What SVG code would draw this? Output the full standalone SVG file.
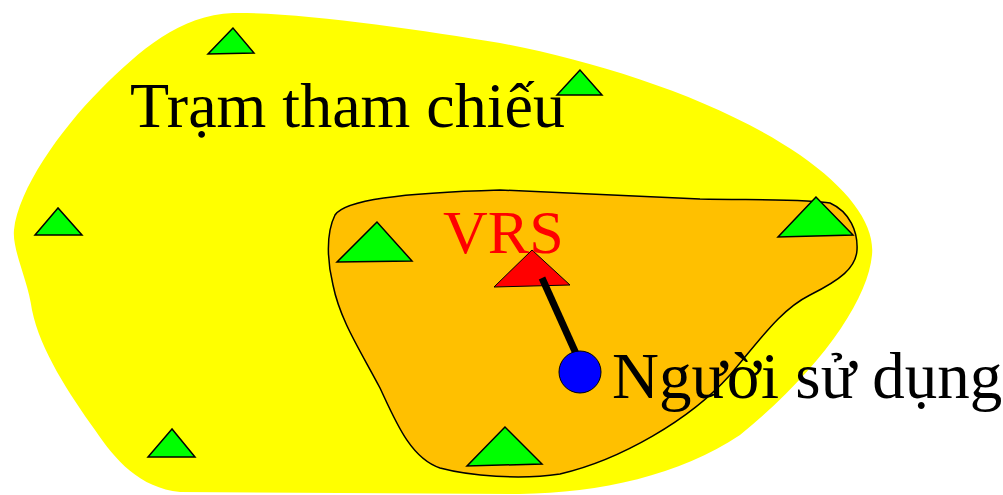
<svg xmlns="http://www.w3.org/2000/svg" width="1003" height="495" viewBox="0 0 1003 495">
<style>
.st{fill:#00FF00;stroke:#000;stroke-width:1.5;stroke-linejoin:miter}
.lbl{font-family:"Liberation Serif","Times New Roman",serif}
</style>
<rect width="1003" height="495" fill="#fff"/>
<g id="reference-area">
<path d="M 233,13 C 300,12 420,30 500,43 C 600,62 720,100 800,155 C 850,190 875,225 872,255 C 868,300 820,370 740,435 C 680,475 600,493 520,494 L 180,492 C 140,488 115,460 95,430 C 70,395 40,350 32,310 C 28,280 12,250 14,230 C 18,190 60,130 100,90 C 140,50 180,15 233,13 Z" fill="#FFFF00"/>
</g>
<g id="vrs-area">
<path d="M 500,190 L 700,199 C 760,200 810,199 830,203 C 850,212 858,232 857,250 C 856,268 840,280 810,295 C 780,310 760,340 730,375 C 690,420 620,460 560,474 C 520,480 470,476 440,468 C 410,458 395,420 380,388 C 360,350 340,320 333,285 C 328,265 325,235 335,215 C 345,200 400,193 500,190 Z" fill="#FFC000" stroke="#000" stroke-width="1.5"/>
</g>
<g id="stations">
<polygon id="s1" class="st" points="233,28 208,54 254,53"/>
<polygon id="s2" class="st" points="580,70 557,95 602,95"/>
<polygon id="s3" class="st" points="58,208 35,235 82,235"/>
<polygon id="s4" class="st" points="377,222 337,262 412,261"/>
<polygon id="s5" class="st" points="816,197 778,237 853,235"/>
<polygon id="s6" class="st" points="172,429 148,457 195,457"/>
<polygon id="s7" class="st" points="505,427 467,466 542,464"/>
</g>
<g id="vrs">
<polygon points="532,250 494,287 570,285" fill="#FF0000" stroke="#000" stroke-width="1"/>
</g>
<g id="connectors">
<line x1="542" y1="278" x2="578" y2="358" stroke="#000" stroke-width="7"/>
</g>
<g id="user">
<circle cx="580" cy="372" r="21" fill="#0000FF" stroke="#000" stroke-width="1"/>
</g>
<g id="labels">
<text class="lbl" x="130" y="127" font-size="64" fill="#000">Trạm tham chiếu</text>
<text class="lbl" x="443" y="253" font-size="62" fill="#FF0000">VRS</text>
<text class="lbl" x="612" y="398" font-size="65" fill="#000">Người sử dụng</text>
</g>
</svg>
